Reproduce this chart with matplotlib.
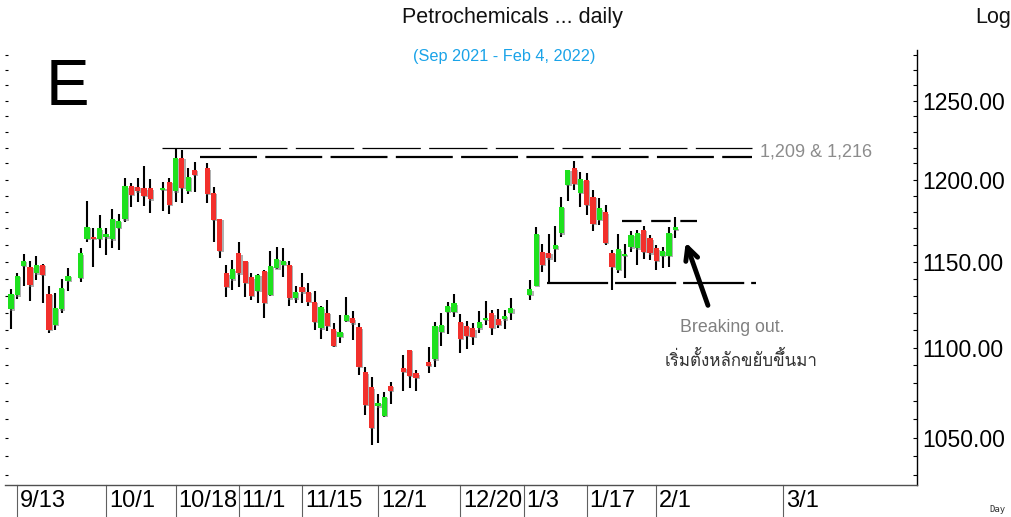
import numpy as np
import pandas as pd
import matplotlib
matplotlib.use('Agg')
import matplotlib.pyplot as plt
import matplotlib.transforms as mtransforms
from matplotlib import font_manager
from matplotlib.ticker import FixedLocator, NullFormatter, FuncFormatter

# calendario de dias habiles y feriados del mercado
holidays = ['2021-09-24', '2021-10-13', '2021-10-22', '2021-12-06',
            '2021-12-10', '2021-12-31', '2022-01-03']
calendar = pd.bdate_range('2021-09-10', '2022-03-04')
last_day = pd.Timestamp('2022-02-04')
trading_days = [d for d in calendar
                if d <= last_day and d.strftime('%Y-%m-%d') not in holidays]

# velas diarias (OHLC)
opens = [1122.1, 1130.3, 1147.5, 1147.0, 1143.2, 1148.1, 1131.2, 1113.0, 1122.1, 1138.7,
         1140.5, 1163.9, 1165.0, 1163.9, 1164.7, 1163.5, 1170.5, 1175.5, 1195.9, 1195.3,
         1194.5, 1194.5, 1193.5, 1198.4, 1192.6, 1213.6, 1193.1, 1205.9,
         1206.9, 1191.6, 1175.7, 1143.2, 1139.7, 1155.0, 1150.5, 1140.9, 1132.8, 1144.6,
         1130.5, 1146.2, 1148.1, 1148.1, 1128.6, 1135.4, 1132.4, 1126.6, 1111.2, 1120.2,
         1110.6, 1106.3, 1115.6, 1116.9, 1111.7, 1086.2, 1077.8, 1067.2, 1062.0, 1078.7,
         1088.8, 1098.8, 1085.6,
         1091.8, 1093.5, 1109.0, 1120.7, 1120.7, 1114.7, 1112.5, 1111.2, 1111.2, 1116.0,
         1119.8, 1116.3, 1116.4, 1120.1,
         1130.5, 1135.8, 1156.1, 1155.5, 1157.7, 1167.1, 1196.9, 1206.9, 1191.6, 1199.7,
         1189.4, 1175.1, 1179.8, 1155.5, 1145.2, 1153.7, 1158.7, 1158.1, 1169.1, 1164.1,
         1158.1, 1153.5, 1153.5, 1169.1]
highs = [1134.0, 1143.3, 1154.7, 1150.5, 1153.3, 1148.6, 1135.8, 1131.8, 1139.9, 1146.6,
         1158.5, 1187.0, 1170.1, 1177.9, 1170.1, 1181.6, 1178.7, 1200.8, 1197.8, 1200.8,
         1208.4, 1200.1, 1198.4, 1201.1, 1219.4, 1218.4, 1206.9, 1211.1,
         1210.1, 1195.3, 1176.0, 1148.1, 1151.1, 1162.1, 1150.8, 1143.2, 1142.6, 1145.2,
         1156.7, 1159.1, 1158.1, 1150.5, 1136.0, 1143.2, 1137.3, 1132.6, 1124.3, 1127.6,
         1114.1, 1118.8, 1129.5, 1121.1, 1114.1, 1089.4, 1083.4, 1073.9, 1075.0, 1081.0,
         1096.0, 1099.0, 1087.5,
         1100.3, 1114.7, 1119.8, 1126.3, 1130.9, 1119.4, 1115.6, 1114.1, 1121.1, 1126.8,
         1122.0, 1122.1, 1122.0, 1128.5,
         1139.3, 1170.7, 1160.7, 1166.5, 1171.5, 1189.4, 1205.9, 1211.5, 1204.5, 1203.9,
         1193.5, 1188.4, 1184.3, 1157.1, 1166.5, 1160.7, 1168.6, 1169.1, 1171.7, 1166.0,
         1160.1, 1158.9, 1171.1, 1176.9]
lows = [1110.6, 1128.4, 1135.8, 1127.2, 1139.3, 1125.7, 1108.3, 1110.2, 1120.2, 1132.8,
        1138.0, 1161.9, 1147.0, 1158.1, 1154.1, 1158.1, 1157.1, 1174.1, 1183.3, 1186.0,
        1183.7, 1179.6, 1180.8, 1178.7, 1186.4, 1185.7, 1191.0, 1192.5,
        1185.5, 1162.1, 1152.5, 1129.2, 1133.4, 1135.4, 1129.5, 1127.6, 1126.0, 1117.0,
        1129.8, 1145.8, 1140.9, 1124.3, 1125.7, 1126.0, 1124.3, 1110.2, 1105.1, 1109.8,
        1100.7, 1103.0, 1115.0, 1104.5, 1084.7, 1062.2, 1046.2, 1047.1, 1061.5, 1068.6,
        1075.7, 1077.2, 1075.9,
        1085.6, 1089.4, 1101.1, 1107.7, 1117.9, 1096.9, 1099.2, 1101.7, 1108.3, 1113.1,
        1107.3, 1111.2, 1110.6, 1116.0,
        1127.6, 1135.5, 1144.2, 1137.5, 1150.1, 1164.7, 1186.8, 1193.6, 1182.9, 1178.1,
        1168.5, 1172.1, 1160.1, 1133.4, 1143.2, 1140.7, 1156.1, 1148.1, 1151.5, 1151.1,
        1145.2, 1146.2, 1147.2, 1164.1]
closes = [1131.2, 1141.6, 1150.5, 1136.2, 1148.1, 1142.2, 1110.2, 1122.9, 1134.6, 1141.6,
          1155.1, 1171.0, 1163.9, 1170.1, 1166.5, 1175.7, 1174.5, 1195.7, 1190.4, 1192.7,
          1189.8, 1187.8, 1194.9, 1184.3, 1213.6, 1194.9, 1201.7, 1202.8,
          1191.0, 1175.1, 1156.5, 1135.4, 1145.6, 1143.2, 1137.7, 1130.1, 1142.4, 1126.0,
          1147.5, 1151.7, 1150.5, 1128.6, 1132.4, 1132.1, 1126.6, 1115.0, 1123.2, 1112.5,
          1101.1, 1109.2, 1118.8, 1114.1, 1089.4, 1068.2, 1055.5, 1069.0, 1072.6, 1075.9,
          1086.5, 1084.1, 1082.9,
          1089.9, 1112.5, 1113.1, 1124.0, 1125.6, 1105.1, 1106.8, 1106.3, 1114.6, 1116.8,
          1111.4, 1113.1, 1118.3, 1123.0,
          1133.8, 1166.7, 1148.1, 1152.1, 1160.1, 1183.3, 1205.9, 1197.5, 1200.1, 1184.3,
          1172.7, 1182.2, 1161.2, 1147.2, 1157.5, 1154.5, 1166.0, 1167.5, 1156.1, 1155.1,
          1150.5, 1156.7, 1167.5, 1170.7]

# etiquetas del eje x
tick_dates = ['2021-09-13', '2021-10-01', '2021-10-18', '2021-11-01', '2021-11-15',
              '2021-12-01', '2021-12-20', '2022-01-03', '2022-01-17', '2022-02-01',
              '2022-03-01']
tick_labels = ['9/13', '10/1', '10/18', '11/1', '11/15', '12/1', '12/20', '1/3',
               '1/17', '2/1', '3/1']

# eje y
y_major = [1050, 1100, 1150, 1200, 1250]
y_minor = list(range(1030, 1290, 10))

# niveles dibujados a mano
resistance_top = 1219.6
resistance_low = 1213.8
support = 1137.3
range_top = 1174.7


def thai_family():
    try:
        from fontTools.ttLib import TTFont
    except Exception:
        return 'DejaVu Sans'
    for f in font_manager.fontManager.ttflist:
        try:
            tt = TTFont(f.fname, fontNumber=0, lazy=True)
            cmap = tt.getBestCmap()
            if cmap and 0x0E40 in cmap and 0x0E49 in cmap:
                return f.name
        except Exception:
            continue
    return 'DejaVu Sans'


plt.rcParams['font.family'] = ['Liberation Sans', 'DejaVu Sans']
plt.rcParams['lines.scale_dashes'] = False

W, H = 1011, 517
fig = plt.figure(figsize=(W / 100, H / 100), dpi=100)
ax = fig.add_axes([5 / W, 32 / H, 912 / W, 435 / H])

pos = {d: k for k, d in enumerate(calendar)}
x = np.array([pos[d] for d in trading_days])
o = np.array(opens); h = np.array(highs); l = np.array(lows); c = np.array(closes)
up = c >= o
body_bot = np.minimum(o, c)
body_h = np.maximum(np.abs(c - o), 0.9)

green = '#1ee11e'
red = '#f2302c'

ax.vlines(x, l, h, color='black', linewidth=1.5, zorder=2)
ax.bar(x + 0.18, body_h, bottom=body_bot * 0.9993, width=0.82, color='#707070',
       alpha=0.55, zorder=3, linewidth=0)
ax.bar(x, body_h, bottom=body_bot, width=0.82,
       color=np.where(up, green, red), zorder=4, linewidth=0)

ax.set_yscale('log')
ax.set_ylim(1024.7, 1283.1)
ax.set_xlim(-0.96, 143.2)

ax.yaxis.set_major_locator(FixedLocator(y_major))
ax.yaxis.set_minor_locator(FixedLocator(y_minor))
ax.yaxis.set_major_formatter(FuncFormatter(lambda v, p: f'{v:.2f}'))
ax.yaxis.set_minor_formatter(NullFormatter())
ax.tick_params(axis='y', which='both', direction='in', length=3, width=0.8,
               left=True, right=True, labelleft=False, labelright=True,
               labelsize=16.5, pad=4)
for t in ax.yaxis.get_major_ticks() + ax.yaxis.get_minor_ticks():
    t.tick1line.set_markersize(2)
ax.set_xticks([])

for s in ['top', 'left']:
    ax.spines[s].set_visible(False)
ax.spines['right'].set_linewidth(1.0)
ax.spines['bottom'].set_color('#505050')
ax.spines['bottom'].set_linewidth(1.0)

# separadores y etiquetas de fecha
trans = mtransforms.blended_transform_factory(ax.transData, ax.transAxes)
for d, lab in zip(tick_dates, tick_labels):
    xp = pos[pd.Timestamp(d)]
    ax.plot([xp, xp], [0, -32 / 435], transform=trans, color='#606060',
            linewidth=0.8, clip_on=False)
    ax.text(xp + 0.45, -16 / 435, lab, transform=trans, ha='left', va='center',
            fontsize=17, color='black', clip_on=False)

# lineas de resistencia / soporte
ax.hlines(resistance_top, 23.9, 117.1, color='black', linewidth=0.9,
          linestyle=(0, (42, 6)), zorder=1)
ax.hlines(resistance_low, 29.9, 117.1, color='black', linewidth=1.6,
          linestyle=(0, (41, 6)), zorder=1)
ax.hlines(support, 84.7, 117.7, color='black', linewidth=1.6,
          linestyle=(0, (44, 5)), zorder=1)
ax.hlines(range_top, 96.5, 108.4, color='black', linewidth=1.6,
          linestyle=(0, (14, 7)), zorder=1)

ax.annotate('', xy=(106.5, 1163.2), xytext=(110.3, 1122.9),
            arrowprops=dict(arrowstyle='->,head_length=0.9,head_width=0.45',
                            color='black', linewidth=3.5), zorder=6)


def fx(px):
    return px / W


def fy(py):
    return 1 - py / H


fig.text(fx(512), fy(18), 'Petrochemicals ... daily', ha='center', va='center',
         fontsize=15.5, color='#111111')
fig.text(fx(1011), fy(18), 'Log', ha='right', va='center', fontsize=15.5,
         color='#111111')
fig.text(fx(504), fy(57), '(Sep 2021 - Feb 4, 2022)', ha='center', va='center',
         fontsize=11.7, color='#1aa3e8')
fig.text(fx(46), fy(105), 'E', ha='left', va='baseline', fontsize=47,
         color='black')
fig.text(fx(760), fy(152), '1,209 & 1,216', ha='left', va='center',
         fontsize=13, color='#8c8c8c')
fig.text(fx(732), fy(327), 'Breaking out.', ha='center', va='center',
         fontsize=12.8, color='#808080')
fig.text(fx(741), fy(360), 'เริ่มตั้งหลักขยับขึ้นมา', ha='center', va='center',
         fontsize=12.2, color='#333333', family=[thai_family(), 'DejaVu Sans'])
fig.text(fx(997), fy(509), 'Day', ha='center', va='center', fontsize=6.5,
         color='#333333', family='DejaVu Sans Mono')

fig.savefig('out.png', dpi=100)
